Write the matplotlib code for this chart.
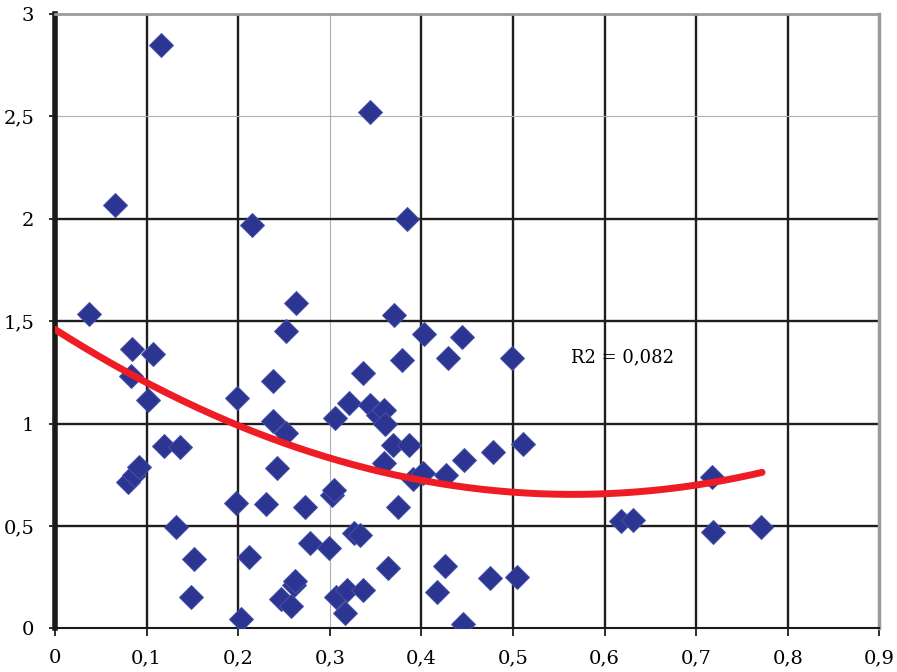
import matplotlib.pyplot as plt
import numpy as np

# scatter values
x_vals = [0.037, 0.066, 0.1156, 0.0837, 0.1073, 0.0826, 0.1018, 0.119, 0.1364, 0.080,
          0.086, 0.092, 0.132, 0.1516, 0.149, 0.198, 0.199, 0.2036, 0.215, 0.2115,
          0.230, 0.2375, 0.238, 0.2425, 0.2473, 0.252, 0.2527, 0.2582, 0.2607, 0.2618,
          0.2626, 0.2727, 0.278, 0.2993, 0.302, 0.3045, 0.3054, 0.3065, 0.3164, 0.319,
          0.3205, 0.326, 0.333, 0.336, 0.336, 0.344, 0.3436, 0.3527, 0.359, 0.360,
          0.359, 0.364, 0.369, 0.370, 0.3745, 0.3785, 0.384, 0.386, 0.391, 0.402,
          0.4025, 0.417, 0.4254, 0.427, 0.4295, 0.4448, 0.4455, 0.4465, 0.4745, 0.478,
          0.4993, 0.5047, 0.5109, 0.6175, 0.631, 0.7175, 0.718, 0.771]
y_vals = [1.535, 2.068, 2.850, 1.364, 1.339, 1.232, 1.115, 0.890, 0.884, 0.716,
          0.750, 0.789, 0.493, 0.337, 0.151, 0.613, 1.123, 0.045, 1.968, 0.350,
          0.608, 1.014, 1.207, 0.781, 0.141, 0.952, 1.450, 0.109, 0.211, 0.232,
          1.590, 0.595, 0.418, 0.391, 0.651, 0.677, 1.027, 0.154, 0.073, 0.187,
          1.099, 0.464, 0.458, 0.187, 1.249, 2.522, 1.090, 1.041, 1.066, 1.000,
          0.806, 0.295, 0.897, 1.530, 0.592, 1.311, 1.999, 0.897, 0.728, 0.757,
          1.440, 0.176, 0.302, 0.750, 1.318, 1.421, 0.021, 0.820, 0.247, 0.860,
          1.321, 0.252, 0.901, 0.525, 0.529, 0.740, 0.469, 0.496]

# 2nd order trend line as drawn in the chart (c0 + c1*x + c2*x^2)
trend_coef = [1.46, -2.85, 2.52]
trend_range = [0.0, 0.772]
r2_label = "R2 = 0,082"

x_ticks = [0, 0.1, 0.2, 0.3, 0.4, 0.5, 0.6, 0.7, 0.8, 0.9]
y_ticks = [0, 0.5, 1, 1.5, 2, 2.5, 3]

def comma(v):
    s = ("%g" % v)
    return s.replace(".", ",")

plt.rcParams['font.family'] = ['DejaVu Serif']

fig = plt.figure(figsize=(8.97, 6.72), dpi=100)
ax = fig.add_axes([0.0613, 0.065, 0.9190, 0.914])

x = np.array(x_vals)
y = np.array(y_vals)

# grid: black, except the 0.3 / 2.5 lines which are thin grey in the original
for t in x_ticks[1:-1]:
    if abs(t - 0.3) < 1e-9:
        ax.axvline(t, color="#b0b0b0", lw=0.8, zorder=0)
    else:
        ax.axvline(t, color="#1e1e1e", lw=1.7, zorder=0)
for t in y_ticks[1:-1]:
    if abs(t - 2.5) < 1e-9:
        ax.axhline(t, color="#b0b0b0", lw=0.8, zorder=0)
    else:
        ax.axhline(t, color="#1e1e1e", lw=1.7, zorder=0)

ax.plot(x, y, "D", ms=12, mfc="#2c3592", mec="#4650a6", mew=0.7,
        linestyle="none", zorder=3)

xt = np.linspace(trend_range[0], trend_range[1], 200)
yt = np.polyval(trend_coef[::-1], xt)
ax.plot(xt, yt, color="#ee1c25", lw=5, solid_capstyle="round", zorder=4)

ax.text(0.563, 1.325, r2_label, fontsize=13, va="center", ha="left", zorder=5)

ax.set_xlim(0, 0.9)
ax.set_ylim(0, 3)
ax.set_xticks(x_ticks)
ax.set_xticklabels([comma(t) for t in x_ticks], fontsize=14)
ax.set_yticks(y_ticks)
ax.set_yticklabels([comma(t) for t in y_ticks], fontsize=14)
ax.tick_params(axis="x", length=6, width=1.3, pad=9, color="#1e1e1e")
ax.tick_params(axis="y", length=4, width=1.3, pad=11, color="#1e1e1e")

ax.spines["left"].set_linewidth(4)
ax.spines["left"].set_color("#1a1a1a")
ax.spines["bottom"].set_linewidth(1.5)
ax.spines["bottom"].set_color("#1a1a1a")
ax.spines["top"].set_linewidth(2)
ax.spines["top"].set_color("#9a9a9a")
ax.spines["right"].set_linewidth(2.5)
ax.spines["right"].set_color("#9a9a9a")

fig.savefig("out.png", dpi=100)
